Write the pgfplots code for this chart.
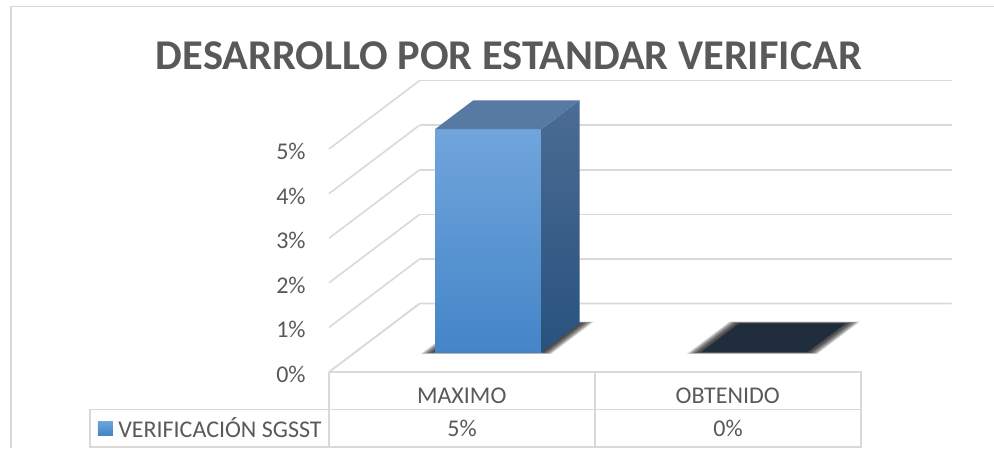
\documentclass[border=0pt]{standalone}
\usepackage{fontspec}
\setmainfont{Carlito}
\usepackage{pgfplots}
\pgfplotsset{compat=1.18}
\definecolor{txt}{HTML}{595959}
\definecolor{rule}{HTML}{D9D9D9}
\definecolor{frontT}{HTML}{70A5DC}
\definecolor{frontB}{HTML}{4485C8}
\definecolor{sideT}{HTML}{4B6C94}
\definecolor{sideB}{HTML}{28527D}
\definecolor{topc}{HTML}{567AA2}
\definecolor{zerotop}{HTML}{1F2D3D}
\begin{document}
\begin{tikzpicture}
\begin{axis}[
  name=ax, at={(0,0)}, anchor=origin,
  x={(199.5pt,0pt)}, y={(68.03pt,51.38pt)}, z={(0pt,33.45pt)},
  xmin=0, xmax=2, ymin=0, ymax=1, zmin=0, zmax=5,
  clip=false,
  axis line style={draw=none},
  tick style={draw=none},
  ztick={0,1,2,3,4,5},
  zticklabels={0\%,1\%,2\%,3\%,4\%,5\%},
  ytick=\empty,
  xtick={0.5,1.5},
  xticklabels={MAXIMO,OBTENIDO},
  zmajorgrids, grid style={draw=rule,line width=1.2pt},
  ticklabel style={text=txt,font=\fontsize{18}{18}\selectfont},
  xticklabel style={yshift=-8.5pt,xshift=4.5pt},
  zticklabel style={xshift=-14pt,yshift=3pt},
]
% floor edges
\addplot3[draw=rule,line width=1.2pt] coordinates {(0,0,0) (0,1,0) (2,1,0)};
% shadows under the bars
\foreach \p/\q in {0.045/0.025,0.04/0.022,0.035/0.019,0.03/0.016,0.025/0.013,0.02/0.01,0.015/0.007,0.01/0.004}{
  \addplot3[fill=black,fill opacity=0.14,draw=none] coordinates
    {(0.3-\p,0.29-\q,0) (0.7+\p,0.29-\q,0) (0.7+\p,0.71+\q,0) (0.3-\p,0.71+\q,0)};
  \addplot3[fill=black,fill opacity=0.14,draw=none] coordinates
    {(1.3-\p,0.29-\q,0) (1.7+\p,0.29-\q,0) (1.7+\p,0.71+\q,0) (1.3-\p,0.71+\q,0)};
}
% MAXIMO = 5
\addplot3[draw=none,top color=frontT,bottom color=frontB] coordinates {(0.3,0.29,0) (0.7,0.29,0) (0.7,0.29,5) (0.3,0.29,5)};
\addplot3[draw=none,top color=sideT,bottom color=sideB] coordinates {(0.7,0.29,0) (0.7,0.71,0) (0.7,0.71,5) (0.7,0.29,5)};
\addplot3[draw=none,fill=topc] coordinates {(0.3,0.29,5) (0.7,0.29,5) (0.7,0.71,5) (0.3,0.71,5)};
% OBTENIDO = 0
\addplot3[draw=none,fill=zerotop] coordinates {(1.3,0.29,0) (1.7,0.29,0) (1.7,0.71,0) (1.3,0.71,0)};
\coordinate (nw) at (axis cs:-1.2368,0,8.341);
\coordinate (se) at (axis cs:2.5,0,-1.704);
\end{axis}
\begin{scope}[shift={(nw)},x=0.75pt,y=-0.75pt]
  \draw[rule,line width=1.4pt] (10.7,448) -- (10.7,6.5) -- (994,6.5);
  \draw[rule,line width=1.2pt] (329,372) -- (861,372) -- (861,447) -- (90,447) -- (90,409.5) -- (861,409.5);
  \draw[rule,line width=1.2pt] (329,372) -- (329,447) (595,372) -- (595,447);
  \fill[bottom color=frontB,top color=frontT] (98,421) rectangle (113,435);
  \node[anchor=west,inner sep=0pt,text=txt,font=\fontsize{18}{18}\selectfont] at (118,428) {VERIFICACIÓN SGSST};
  \node[text=txt,font=\fontsize{18}{18}\selectfont] at (462,428) {5\%};
  \node[text=txt,font=\fontsize{18}{18}\selectfont] at (728,428) {0\%};
  \node[text=txt,font=\fontsize{31.8}{32}\selectfont\bfseries] at (509,56) {DESARROLLO POR ESTANDAR VERIFICAR};
\end{scope}
\pgfresetboundingbox
\path[use as bounding box] (nw) rectangle (se);
\end{tikzpicture}
\end{document}
